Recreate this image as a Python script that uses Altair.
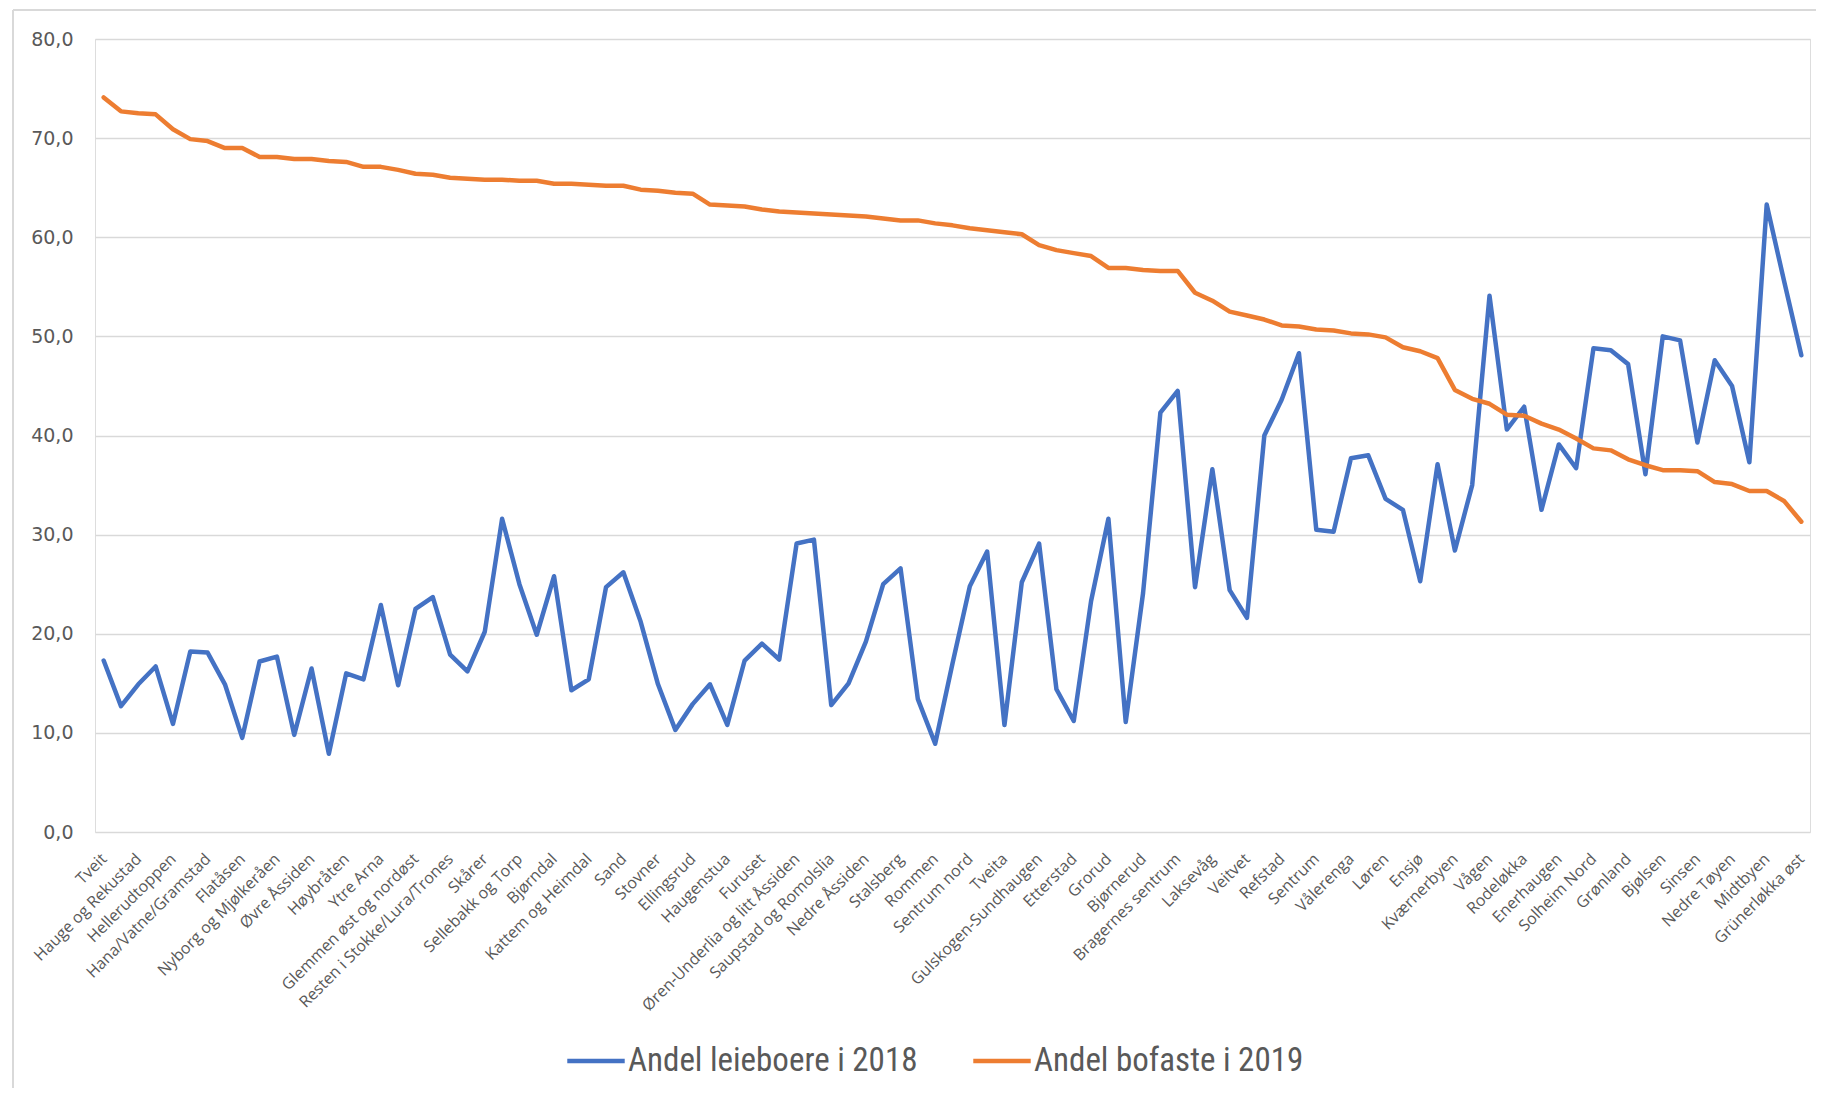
import json
import altair as alt
import pandas as pd

labels = ["Tveit", "Hauge og Rekustad", "Hellerudtoppen", "Hana/Vatne/Gramstad", "Flatåsen",
          "Nyborg og Mjølkeråen", "Øvre Åssiden", "Høybråten", "Ytre Arna", "Glemmen øst og nordøst",
          "Resten i Stokke/Lura/Trones", "Skårer", "Sellebakk og Torp", "Bjørndal", "Kattem og Heimdal",
          "Sand", "Stovner", "Ellingsrud", "Haugenstua", "Furuset",
          "Øren-Underlia og litt Åssiden", "Saupstad og Romolslia", "Nedre Åssiden", "Stalsberg", "Rommen",
          "Sentrum nord", "Tveita", "Gulskogen-Sundhaugen", "Etterstad", "Grorud",
          "Bjørnerud", "Bragernes sentrum", "Laksevåg", "Veitvet", "Refstad",
          "Sentrum", "Vålerenga", "Løren", "Ensjø", "Kværnerbyen",
          "Vågen", "Rodeløkka", "Enerhaugen", "Solheim Nord", "Grønland",
          "Bjølsen", "Sinsen", "Nedre Tøyen", "Midtbyen", "Grünerløkka øst"]

leieboere_2018 = [17.3, 12.7, 14.9, 16.7, 10.9, 18.2, 18.1, 14.9, 9.5, 17.2,
                  17.7, 9.8, 16.5, 7.9, 16.0, 15.4, 22.9, 14.8, 22.5, 23.7,
                  17.9, 16.2, 20.2, 31.6, 25.0, 19.9, 25.8, 14.3, 15.4, 24.7,
                  26.2, 21.2, 14.9, 10.3, 12.9, 14.9, 10.8, 17.3, 19.0, 17.4,
                  29.1, 29.5, 12.8, 15.0, 19.2, 25.0, 26.6, 13.4, 8.9, 17.0,
                  24.8, 28.3, 10.8, 25.2, 29.1, 14.4, 11.2, 23.3, 31.6, 11.1,
                  24.1, 42.3, 44.5, 24.7, 36.6, 24.4, 21.6, 40.0, 43.6, 48.3,
                  30.5, 30.3, 37.7, 38.0, 33.6, 32.5, 25.3, 37.1, 28.4, 35.0,
                  54.1, 40.6, 42.9, 32.5, 39.1, 36.7, 48.8, 48.6, 47.2, 36.1,
                  50.0, 49.6, 39.3, 47.6, 45.0, 37.3, 63.3, 55.6, 48.1]

bofaste_2019 = [74.1, 72.7, 72.5, 72.4, 70.9, 69.9, 69.7, 69.0, 69.0, 68.1,
                68.1, 67.9, 67.9, 67.7, 67.6, 67.1, 67.1, 66.8, 66.4, 66.3,
                66.0, 65.9, 65.8, 65.8, 65.7, 65.7, 65.4, 65.4, 65.3, 65.2,
                65.2, 64.8, 64.7, 64.5, 64.4, 63.3, 63.2, 63.1, 62.8, 62.6,
                62.5, 62.4, 62.3, 62.2, 62.1, 61.9, 61.7, 61.7, 61.4, 61.2,
                60.9, 60.7, 60.5, 60.3, 59.2, 58.7, 58.4, 58.1, 56.9, 56.9,
                56.7, 56.6, 56.6, 54.4, 53.6, 52.5, 52.1, 51.7, 51.1, 51.0,
                50.7, 50.6, 50.3, 50.2, 49.9, 48.9, 48.5, 47.8, 44.6, 43.7,
                43.2, 42.1, 42.0, 41.2, 40.6, 39.7, 38.7, 38.5, 37.6, 37.0,
                36.5, 36.5, 36.4, 35.3, 35.1, 34.4, 34.4, 33.4, 31.3]

series_names = ["Andel leieboere i 2018", "Andel bofaste i 2019"]
series_colors = ["#4472C4", "#ED7D31"]
y_ticks = [0, 10, 20, 30, 40, 50, 60, 70, 80]

n = len(leieboere_2018)
df_blue = pd.DataFrame({"idx": list(range(n)), "verdi": leieboere_2018, "serie": series_names[0]})
df_orange = pd.DataFrame({"idx": list(range(len(bofaste_2019))), "verdi": bofaste_2019, "serie": series_names[1]})

label_expr = "[" + ",".join(json.dumps(s, ensure_ascii=False) for s in labels) + "][round(datum.value/2)]"

x_enc = alt.X("idx:Q",
              scale=alt.Scale(domain=[-0.5, n - 0.5], nice=False, zero=False),
              axis=alt.Axis(values=list(range(0, n, 2)), labelExpr=label_expr, labelAngle=-45,
                            labelAlign="right", labelBaseline="middle", labelPadding=24,
                            labelFont="Open Sans", labelFontSize=16, labelColor="#595959",
                            labelOverlap=False, labelBound=False, labelFlush=False, labelLimit=500,
                            grid=False, ticks=False, domain=False, title=None))
y_enc = alt.Y("verdi:Q",
              scale=alt.Scale(domain=[0, 80], nice=False),
              axis=alt.Axis(values=y_ticks, labelExpr="replace(format(datum.value, '.1f'), '.', ',')",
                            labelFont="DejaVu Sans", labelFontSize=19, labelColor="#595959",
                            labelPadding=22, grid=True, gridColor="#D9D9D9", gridWidth=1.5,
                            ticks=False, domain=False, title=None))
color_enc = alt.Color("serie:N",
                      scale=alt.Scale(domain=series_names, range=series_colors),
                      legend=alt.Legend(orient="none", legendX=470, legendY=991, direction="horizontal",
                                        title=None, symbolType="stroke", symbolStrokeWidth=4.5,
                                        symbolSize=3300, labelFont="Liberation Sans Narrow, Roboto Condensed, Liberation Sans",
                                        labelFontSize=33, labelColor="#595959", labelOffset=1,
                                        columnPadding=46, labelLimit=600, padding=0))

line_blue = alt.Chart(df_blue).mark_line(strokeWidth=4.5, strokeCap="round", strokeJoin="round").encode(
    x=x_enc, y=y_enc, color=color_enc)
line_orange = alt.Chart(df_orange).mark_line(strokeWidth=4.5, strokeCap="round", strokeJoin="round").encode(
    x=x_enc, y=y_enc, color=color_enc)

border_df = pd.DataFrame({"b": [0]})
border_left = alt.Chart(border_df).mark_rule(color="#D9D9D9", strokeWidth=2).encode(
    x=alt.value(-82), y=alt.value(-29), y2=alt.value(1100))
border_top = alt.Chart(border_df).mark_rule(color="#D9D9D9", strokeWidth=2).encode(
    x=alt.value(-82), x2=alt.value(1800), y=alt.value(-29))

chart = alt.layer(border_left, border_top, line_blue, line_orange).properties(
    width=1715, height=793,
    autosize=alt.AutoSizeParams(type="none"),
    padding={"left": 87, "top": 31, "right": 6, "bottom": 256},
).configure_view(stroke=None).configure(background="white")

chart.save("out.html", embed_options={"renderer": "svg", "actions": False})
